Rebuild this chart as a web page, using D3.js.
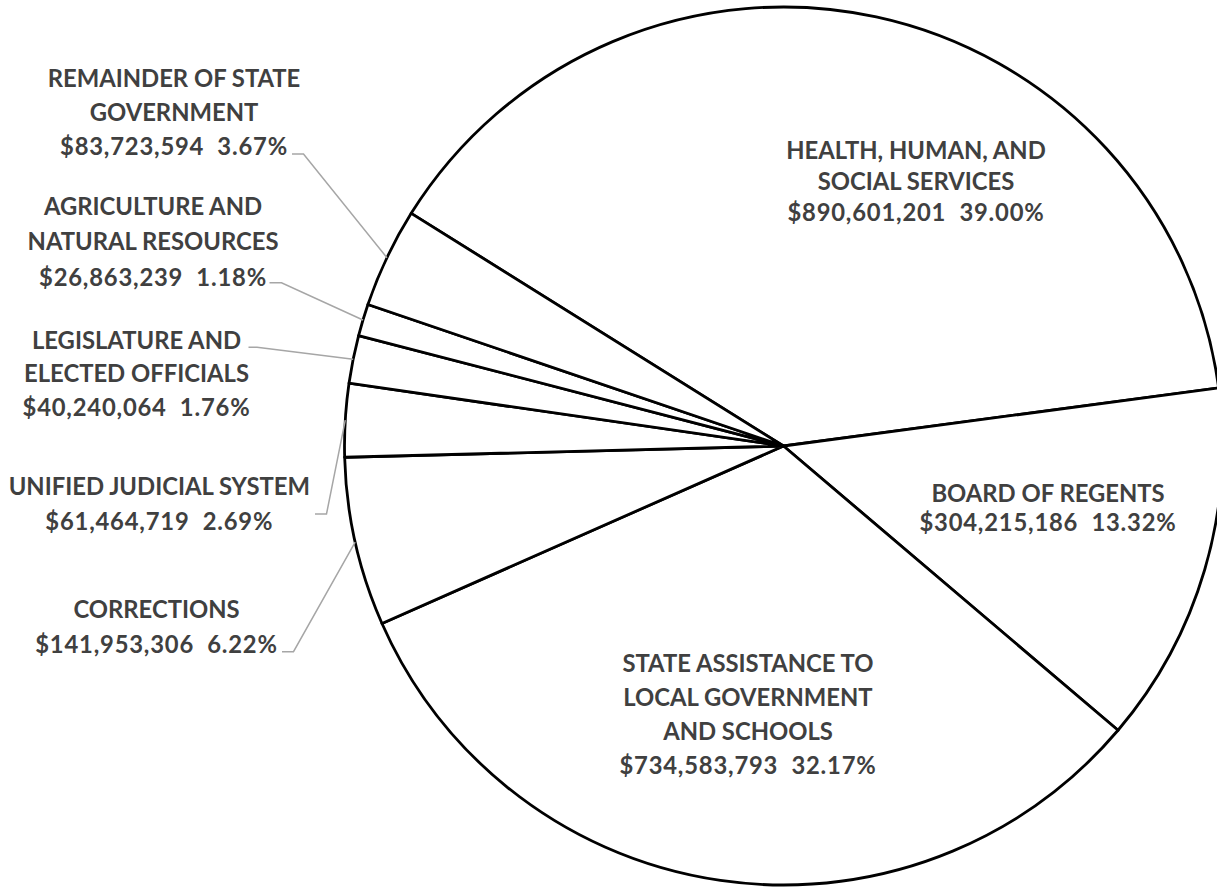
<!DOCTYPE html>
<html>
<head>
<meta charset="utf-8">
<script src="https://cdn.jsdelivr.net/npm/d3@7"></script>
<style>
  html, body { margin: 0; padding: 0; background: #fff; }
  svg { display: block; }
</style>
</head>
<body>
<svg id="chart" width="1217" height="888"></svg>
<script>
// ---- data ----
const categories = [
  "HEALTH, HUMAN, AND SOCIAL SERVICES",
  "BOARD OF REGENTS",
  "STATE ASSISTANCE TO LOCAL GOVERNMENT AND SCHOOLS",
  "CORRECTIONS",
  "UNIFIED JUDICIAL SYSTEM",
  "LEGISLATURE AND ELECTED OFFICIALS",
  "AGRICULTURE AND NATURAL RESOURCES",
  "REMAINDER OF STATE GOVERNMENT"
];
const amounts = [890601201, 304215186, 734583793, 141953306, 61464719, 40240064, 26863239, 83723594];
const nameLines = [
  ["HEALTH, HUMAN, AND", "SOCIAL SERVICES"],
  ["BOARD OF REGENTS"],
  ["STATE ASSISTANCE TO", "LOCAL GOVERNMENT", "AND SCHOOLS"],
  ["CORRECTIONS"],
  ["UNIFIED JUDICIAL SYSTEM"],
  ["LEGISLATURE AND", "ELECTED OFFICIALS"],
  ["AGRICULTURE AND", "NATURAL RESOURCES"],
  ["REMAINDER OF STATE", "GOVERNMENT"]
];

// ---- layout (positions, not data) ----
const cx = 783.5, cy = 446, radius = 439;
const startDeg = -58;
// label centre x, first line centre y, last line centre y
const labelLayout = [
  {x: 916, y0: 150, y1: 212},
  {x: 1048, y0: 493, y1: 522},
  {x: 748, y0: 663, y1: 765},
  {x: 156.5, y0: 609, y1: 644},
  {x: 159.3, y0: 486, y1: 521},
  {x: 136.5, y0: 340, y1: 407.5},
  {x: 153, y0: 206.5, y1: 277},
  {x: 174, y0: 78, y1: 146.5}
];
// leader line start (x, y) and horizontal length; null = no leader
const leaderLayout = [
  null, null, null,
  {x: 282, y: 651.7, len: 11.5},
  {x: 315, y: 514, len: 11.5},
  {x: 248.5, y: 347.3, len: 8.5},
  {x: 269.5, y: 282.7, len: 12},
  {x: 292, y: 154, len: 11.5}
];

const total = d3.sum(amounts);
const fmtMoney = d3.format("$,");
const fmtPct = d3.format(".2%");

const data = categories.map((c, i) => ({name: c, value: amounts[i], i}));

const pie = d3.pie().value(d => d.value).sort(null)
  .startAngle(startDeg * Math.PI / 180)
  .endAngle(startDeg * Math.PI / 180 + 2 * Math.PI);
const arcs = pie(data);
const arc = d3.arc().innerRadius(0).outerRadius(radius);
const edgeArc = d3.arc().innerRadius(radius).outerRadius(radius);

const svg = d3.select("#chart");
const g = svg.append("g").attr("transform", `translate(${cx},${cy})`);

g.selectAll("path.slice").data(arcs).join("path")
  .attr("class", "slice")
  .attr("d", arc)
  .attr("fill", "#ffffff")
  .attr("stroke", "#000000")
  .attr("stroke-width", 2.8)
  .attr("stroke-linejoin", "round");

// leader lines
arcs.forEach((a, i) => {
  const L = leaderLayout[i];
  if (!L) return;
  const [ex, ey] = edgeArc.centroid(a);
  svg.append("polyline")
    .attr("points", `${L.x},${L.y} ${L.x + L.len},${L.y} ${cx + ex},${cy + ey}`)
    .attr("fill", "none")
    .attr("stroke", "#a6a6a6")
    .attr("stroke-width", 1.5);
});

// labels
const fontSize = 23.8;
arcs.forEach((a, i) => {
  const lines = nameLines[i].concat([fmtMoney(a.data.value) + "  " + fmtPct(a.data.value / total)]);
  const lay = labelLayout[i];
  const step = lines.length > 1 ? (lay.y1 - lay.y0) / (lines.length - 1) : 0;
  const t = svg.append("text")
    .attr("font-family", "Lato, 'Open Sans', sans-serif")
    .attr("font-weight", "bold")
    .attr("font-size", fontSize)
    .attr("fill", "#404040")
    .attr("text-anchor", "middle")
    .style("white-space", "pre");
  lines.forEach((ln, k) => {
    const isValue = k === lines.length - 1;
    t.append("tspan")
      .attr("x", lay.x)
      .attr("y", lay.y0 + k * step)
      .attr("dy", "0.36em")
      .attr("letter-spacing", isValue ? 0.8 : 0)
      .text(ln);
  });
});
</script>
</body>
</html>
